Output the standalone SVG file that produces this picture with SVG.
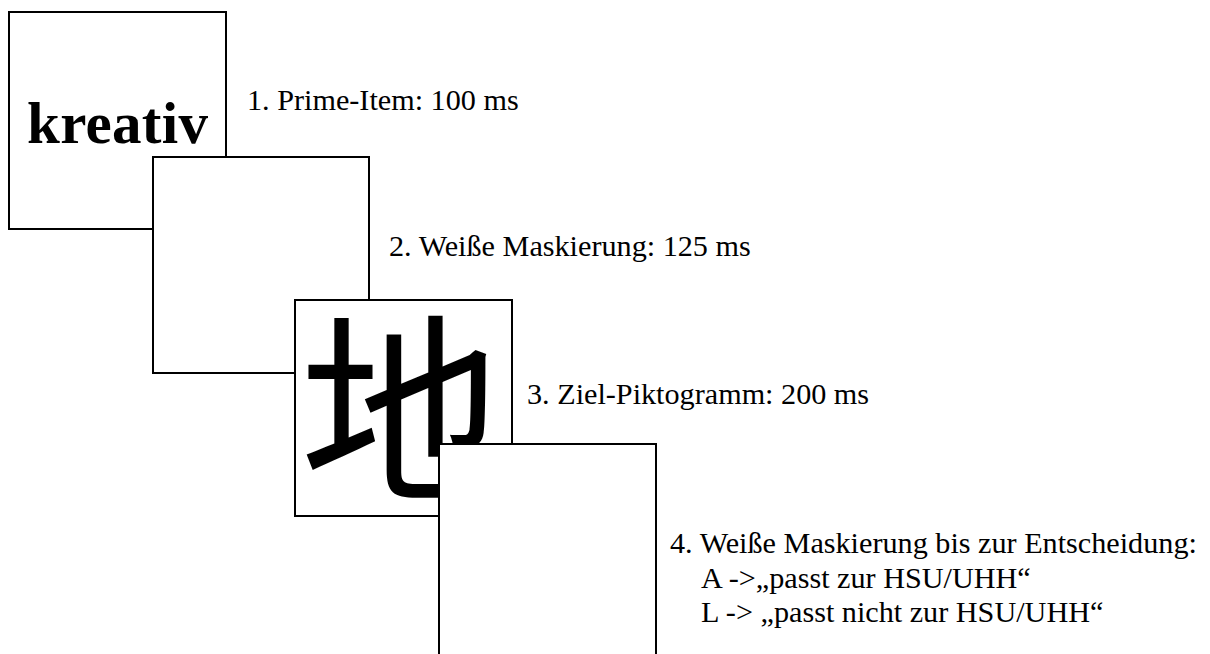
<svg xmlns="http://www.w3.org/2000/svg" width="1210" height="654" viewBox="0 0 1210 654">
<style>
.card{fill:#fff;stroke:#000;stroke-width:2}
.lbl{font-family:"Liberation Serif","Times New Roman",serif;font-size:30.2px;fill:#000}
</style>
<rect width="1210" height="654" fill="#fff"/>
<g id="card1">
<rect class="card" x="9" y="12" width="217" height="217"/>
<text x="27" y="143" font-family="Liberation Serif,serif" font-weight="bold" font-size="59" textLength="181">kreativ</text>
</g>
<g id="label1"><text class="lbl" x="247" y="110" xml:space="preserve">1. Prime-Item: 100 ms</text></g>
<g id="card2"><rect class="card" x="153" y="157" width="216" height="216"/></g>
<g id="label2"><text class="lbl" x="389" y="256">2. Weiße Maskierung: 125 ms</text></g>
<g id="card3">
<rect class="card" x="295" y="300" width="217" height="216"/>
<text x="401" y="486" text-anchor="middle" font-family="Noto Sans CJK SC,sans-serif" font-size="202">地</text>
</g>
<g id="label3"><text class="lbl" x="527" y="404">3. Ziel-Piktogramm: 200 ms</text></g>
<g id="card4"><rect class="card" x="439" y="444" width="217" height="230"/></g>
<g id="label4">
<text class="lbl" x="670" y="553">4. Weiße Maskierung bis zur Entscheidung:</text>
<text class="lbl" x="701" y="588">A -&gt;„passt zur HSU/UHH“</text>
<text class="lbl" x="701" y="622">L -&gt; „passt nicht zur HSU/UHH“</text>
</g>
<g id="connectors"/>
</svg>
